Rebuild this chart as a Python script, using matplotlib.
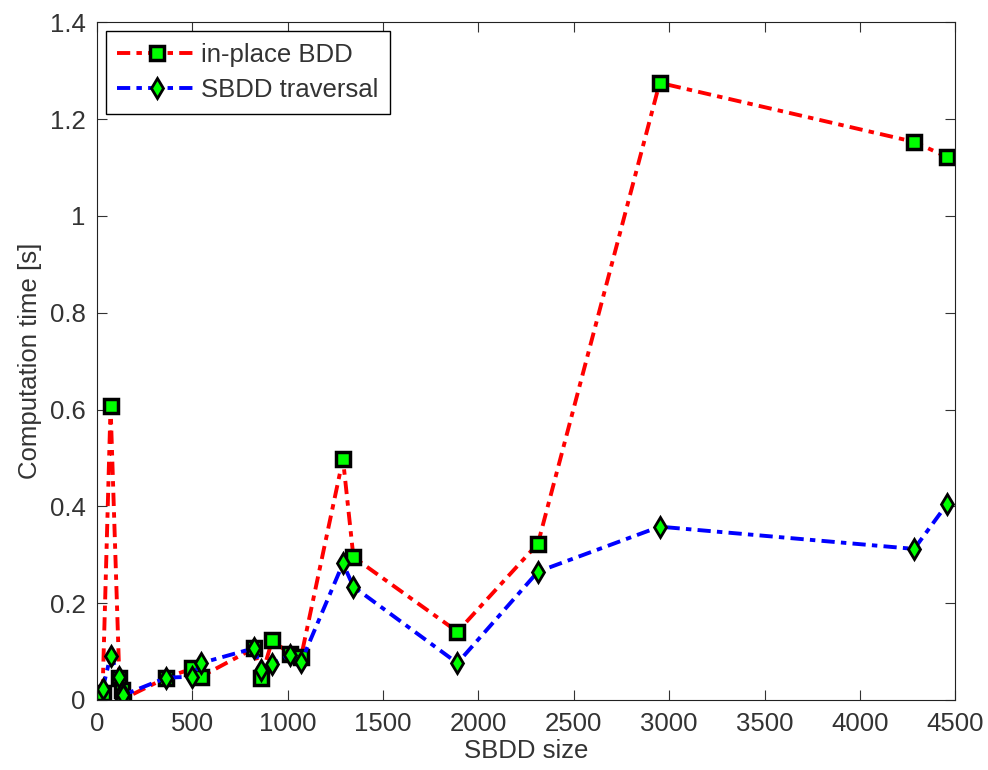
import matplotlib
matplotlib.use("Agg")
import matplotlib.pyplot as plt

plt.rcParams['font.family'] = ['Liberation Sans', 'DejaVu Sans']

# SBDD size
sizes = [30, 72, 118, 130, 138, 365, 500, 545, 825, 860, 920, 1010, 1070,
         1290, 1345, 1890, 2312, 2950, 4284, 4455]
# computation times [s]
inplace_bdd = [0.015, 0.607, 0.045, 0.02, 0.002, 0.046, 0.065, 0.048, 0.107,
               0.045, 0.124, 0.095, 0.088, 0.498, 0.295, 0.141, 0.323, 1.275,
               1.153, 1.122]
sbdd_trav = [0.022, 0.091, 0.048, 0.017, 0.01, 0.046, 0.048, 0.076, 0.107,
             0.062, 0.075, 0.093, 0.078, 0.282, 0.234, 0.076, 0.265, 0.358,
             0.312, 0.404]

txt = '#333333'
fs = 18.5

fig = plt.figure(figsize=(9.88, 7.7), dpi=100)
ax = fig.add_axes([0.098, 0.091, 0.869, 0.880])

ax.plot(sizes, inplace_bdd, color='#ff0000', linestyle='-.', linewidth=2.8,
        dashes=(3.4, 1.6, 1.4, 1.6),
        marker='s', markersize=10, markerfacecolor='#00ff00',
        markeredgecolor='black', markeredgewidth=2.5, label='in-place BDD')
ax.plot(sizes, sbdd_trav, color='#0000ff', linestyle='-.', linewidth=2.8,
        dashes=(3.4, 1.6, 1.4, 1.6),
        marker='d', markersize=10, markerfacecolor='#00ff00',
        markeredgecolor='black', markeredgewidth=2, label='SBDD traversal')

ax.set_xlim(0, 4500)
ax.set_ylim(0, 1.4)
ax.set_xticks(range(0, 4501, 500))
ax.set_yticks([0, 0.2, 0.4, 0.6, 0.8, 1, 1.2, 1.4])
ax.set_yticklabels(['0', '0.2', '0.4', '0.6', '0.8', '1', '1.2', '1.4'])
ax.tick_params(direction='in', top=True, right=True, labelsize=fs,
               length=7, colors=txt)
ax.tick_params(axis='x', pad=9)
ax.tick_params(axis='y', pad=8)
ax.set_xlabel('SBDD size', fontsize=fs, color=txt, labelpad=2)
ax.set_ylabel('Computation time [s]', fontsize=fs, color=txt, labelpad=6)
for s in ax.spines.values():
    s.set_color('#222222')

leg = ax.legend(loc='upper left', fontsize=fs, fancybox=False,
                edgecolor='black', framealpha=1, handlelength=3.1,
                handletextpad=0.15, borderaxespad=0.35, labelspacing=0.45,
                borderpad=0.45)
leg.get_frame().set_linewidth(1)
for t in leg.get_texts():
    t.set_color(txt)

fig.savefig('out.png', dpi=100)
